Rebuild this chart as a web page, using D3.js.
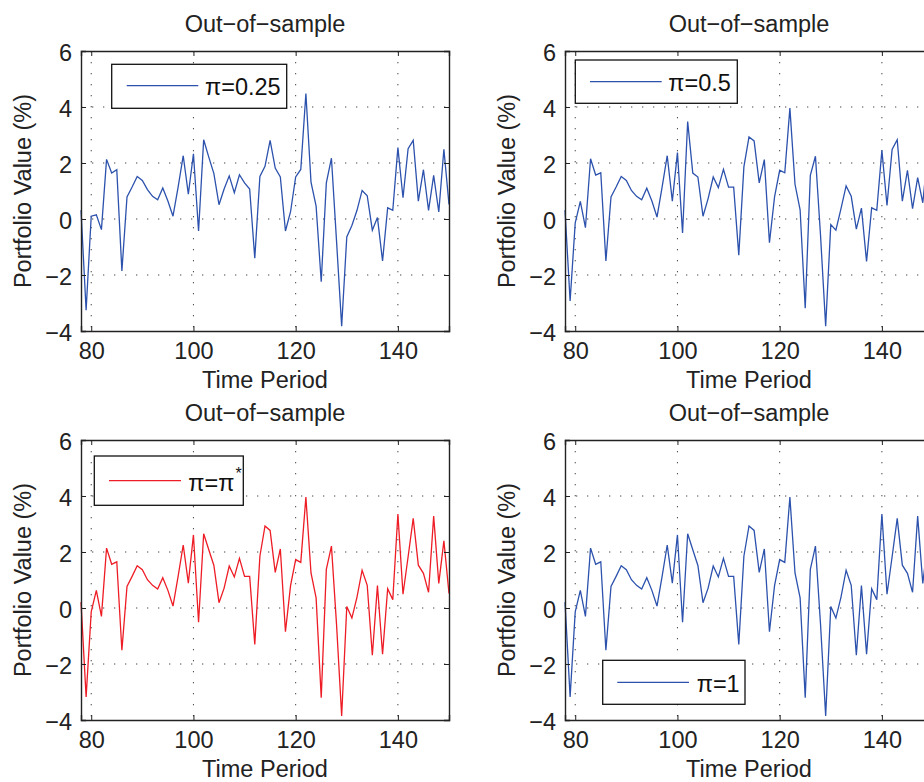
<!DOCTYPE html>
<html>
<head>
<meta charset="utf-8">
<script src="https://cdn.jsdelivr.net/npm/d3@7"></script>
<style>
  html, body { margin: 0; padding: 0; background: #fff; overflow: hidden; }
  svg { display: block; font-family: "Liberation Sans", Arial, sans-serif; }
</style>
</head>
<body>
<svg id="chart" width="924" height="782"></svg>
<script>
// ---------------- DATA ----------------
const periods = [78,79,80,81,82,83,84,85,86,87,88,89,90,91,92,93,94,95,96,97,98,99,100,101,102,103,104,105,106,107,108,109,110,111,112,113,114,115,116,117,118,119,120,121,122,123,124,125,126,127,128,129,130,131,132,133,134,135,136,137,138,139,140,141,142,143,144,145,146,147,148,149,150];

const pi025 = [0.31,-3.26,0.10,0.15,-0.38,2.13,1.64,1.76,-1.86,0.79,
  1.14,1.52,1.38,1.05,0.81,0.69,1.11,0.64,0.10,1.14,
  2.26,0.89,2.33,-0.43,2.83,2.21,1.62,0.51,1.07,1.54,
  0.94,1.58,1.29,1.07,-1.40,1.52,1.88,2.81,1.82,1.50,
  -0.43,0.26,1.50,1.77,4.48,1.32,0.46,-2.24,1.29,2.17,
  -0.80,-3.83,-0.64,-0.23,0.31,1.02,0.83,-0.40,0.05,-1.50,
  0.40,0.31,2.55,0.76,2.51,2.81,0.64,1.76,0.31,1.56,
  0.25,2.49,0.52];

const pi05 = [0.31,-2.93,-0.14,0.63,-0.31,2.15,1.57,1.65,-1.50,0.79,
  1.14,1.52,1.38,1.02,0.81,0.69,1.10,0.64,0.07,1.14,
  2.26,0.64,2.37,-0.50,3.48,1.64,1.50,0.10,0.73,1.50,
  1.12,1.77,1.14,1.14,-1.29,1.86,2.93,2.79,1.29,2.12,
  -0.85,0.79,1.74,1.65,3.96,1.24,0.33,-3.19,1.56,2.24,
  -0.60,-3.83,-0.20,-0.40,0.37,1.18,0.81,-0.36,0.39,-1.52,
  0.40,0.31,2.45,0.48,2.48,2.83,0.64,1.74,0.37,1.48,
  0.58,2.40,0.50];

const piStar = [0.21,-3.18,-0.14,0.63,-0.30,2.14,1.56,1.65,-1.51,0.77,
  1.13,1.51,1.37,1.01,0.81,0.68,1.08,0.63,0.07,1.13,
  2.25,0.89,2.61,-0.51,2.65,2.08,1.52,0.19,0.71,1.50,
  1.11,1.77,1.13,1.13,-1.30,1.85,2.93,2.77,1.27,2.11,
  -0.85,0.80,1.73,1.63,3.96,1.25,0.36,-3.20,1.38,2.21,
  -0.60,-3.86,0.05,-0.36,0.39,1.35,0.81,-1.69,0.80,-1.65,
  0.69,0.30,3.36,0.49,1.83,3.20,1.53,1.24,0.56,3.28,
  0.88,2.40,0.52];

const pi1 = [0.21,-3.18,-0.14,0.63,-0.30,2.14,1.56,1.65,-1.51,0.77,
  1.13,1.51,1.37,1.01,0.81,0.68,1.08,0.63,0.07,1.13,
  2.25,0.89,2.61,-0.51,2.65,2.08,1.52,0.19,0.71,1.50,
  1.11,1.77,1.13,1.13,-1.30,1.85,2.93,2.77,1.27,2.11,
  -0.85,0.80,1.73,1.63,3.96,1.25,0.36,-3.20,1.38,2.21,
  -0.60,-3.86,0.05,-0.36,0.39,1.35,0.81,-1.69,0.80,-1.65,
  0.69,0.30,3.36,0.49,1.83,3.20,1.53,1.24,0.56,3.28,
  0.88,2.40,0.52];

const xTicks = [80, 100, 120, 140];
const yTicks = [-4, -2, 0, 2, 4, 6];
const titleText = "Out\u2212of\u2212sample";
const xLabelText = "Time Period";
const yLabelText = "Portfolio Value (%)";
const legendMain = ["\u03c0=0.25", "\u03c0=0.5", "\u03c0=\u03c0", "\u03c0=1"];
const legendSup = ["", "", "*", ""];

// ---------------- LAYOUT / STYLE ----------------
const BLUE = "#2c52ad";
const RED = "#ee1c25";
const FONT = 23.5;
const W = 368, H = 280;

const panels = [
  { left: 81,  top: 51,  values: pi025,  color: BLUE, title: false,
    legend: { x: 30.7, y: 13.3, w: 175, h: 44, lx1: 45.7, lx2: 117.3, ly: 34.7, tx: 124, ty: 44 } },
  { left: 565, top: 51,  values: pi05,   color: BLUE, title: false,
    legend: { x: 10.3, y: 9, w: 162, h: 43.3, lx1: 25, lx2: 96.7, ly: 30.7, tx: 103.3, ty: 40 } },
  { left: 81,  top: 440, values: piStar, color: RED,  title: true,
    legend: { x: 13.3, y: 16, w: 149, h: 49.3, lx1: 28, lx2: 100, ly: 40.7, tx: 107.3, ty: 50.5 } },
  { left: 565, top: 440, values: pi1,    color: BLUE, title: true,
    legend: { x: 37.7, y: 220.3, w: 142.3, h: 44, lx1: 52.3, lx2: 124, ly: 242.3, tx: 131.7, ty: 251.5 } }
];

const svg = d3.select("#chart");

panels.forEach((p, i) => {
  const x = d3.scaleLinear().domain([78, 150]).range([p.left, p.left + W]);
  const y = d3.scaleLinear().domain([-4, 6]).range([p.top + H, p.top]);
  const g = svg.append("g");

  // title
  g.append("text")
    .attr("x", p.left + W / 2).attr("y", p.top - 19)
    .attr("text-anchor", "middle").attr("font-size", FONT).attr("fill", "#222")
    .text(titleText);

  // grid (dotted)
  const grid = g.append("g").attr("stroke", "#444").attr("stroke-width", 1)
    .attr("stroke-dasharray", "1.3,9.7");
  xTicks.forEach(t => {
    grid.append("line").attr("x1", x(t)).attr("x2", x(t))
      .attr("y1", p.top).attr("y2", p.top + H);
  });
  yTicks.filter(t => t > -4 && t < 6).forEach(t => {
    grid.append("line").attr("x1", p.left).attr("x2", p.left + W)
      .attr("y1", y(t)).attr("y2", y(t));
  });

  // data line
  const line = d3.line().x((d, k) => x(periods[k])).y(d => y(d));
  g.append("path").datum(p.values)
    .attr("d", line).attr("fill", "none")
    .attr("stroke", p.color).attr("stroke-width", 1.3)
    .attr("stroke-linejoin", "miter");

  // axes via d3 axis (ticks inward)
  const axB = d3.axisBottom(x).tickValues(xTicks).tickSize(-5).tickFormat(d => d);
  const axT = d3.axisTop(x).tickValues(xTicks).tickSize(-5).tickFormat("");
  const axL = d3.axisLeft(y).tickValues(yTicks).tickSize(-5)
    .tickFormat(d => d < 0 ? "\u2212" + Math.abs(d) : String(d));
  const axR = d3.axisRight(y).tickValues(yTicks).tickSize(-5).tickFormat("");

  const gb = g.append("g").attr("transform", `translate(0,${p.top + H})`).call(axB);
  const gt = g.append("g").attr("transform", `translate(0,${p.top})`).call(axT);
  const gl = g.append("g").attr("transform", `translate(${p.left},0)`).call(axL);
  const gr = g.append("g").attr("transform", `translate(${p.left + W},0)`).call(axR);
  [gb, gt, gl, gr].forEach(a => {
    a.select(".domain").attr("stroke", "#222").attr("stroke-width", 1.4);
    a.selectAll(".tick line").attr("stroke", "#222").attr("stroke-width", 1);
    a.selectAll("text").attr("font-size", FONT).attr("fill", "#222")
      .attr("font-family", "Liberation Sans, Arial, sans-serif");
  });
  gb.selectAll(".tick text").attr("y", 11).attr("dy", "0.71em");
  gl.selectAll(".tick text").attr("x", -9).attr("dy", "0.36em");
  gl.selectAll(".tick text").attr("transform", "translate(0,1.5)");

  // axis labels
  g.append("text")
    .attr("x", p.left + W / 2).attr("y", p.top + H + 57)
    .attr("text-anchor", "middle").attr("font-size", FONT).attr("fill", "#222")
    .text(xLabelText);
  g.append("text")
    .attr("transform", `translate(${p.left - 50},${p.top + H / 2}) rotate(-90)`)
    .attr("text-anchor", "middle").attr("font-size", FONT).attr("fill", "#222")
    .text(yLabelText);

  // legend
  const L = p.legend;
  const lg = g.append("g").attr("transform", `translate(${p.left},${p.top})`);
  lg.append("rect").attr("x", L.x).attr("y", L.y).attr("width", L.w).attr("height", L.h)
    .attr("fill", "#fff").attr("stroke", "#111").attr("stroke-width", 1.3);
  lg.append("line").attr("x1", L.lx1).attr("x2", L.lx2).attr("y1", L.ly).attr("y2", L.ly)
    .attr("stroke", p.color).attr("stroke-width", 1.3);
  const lt = lg.append("text").attr("x", L.tx).attr("y", L.ty)
    .attr("font-size", FONT).attr("fill", "#111");
  lt.append("tspan").text(legendMain[i]);
  if (legendSup[i]) {
    lt.append("tspan").attr("dy", -12).attr("dx", 1).attr("font-size", 16).text(legendSup[i]);
  }
});
</script>
</body>
</html>
